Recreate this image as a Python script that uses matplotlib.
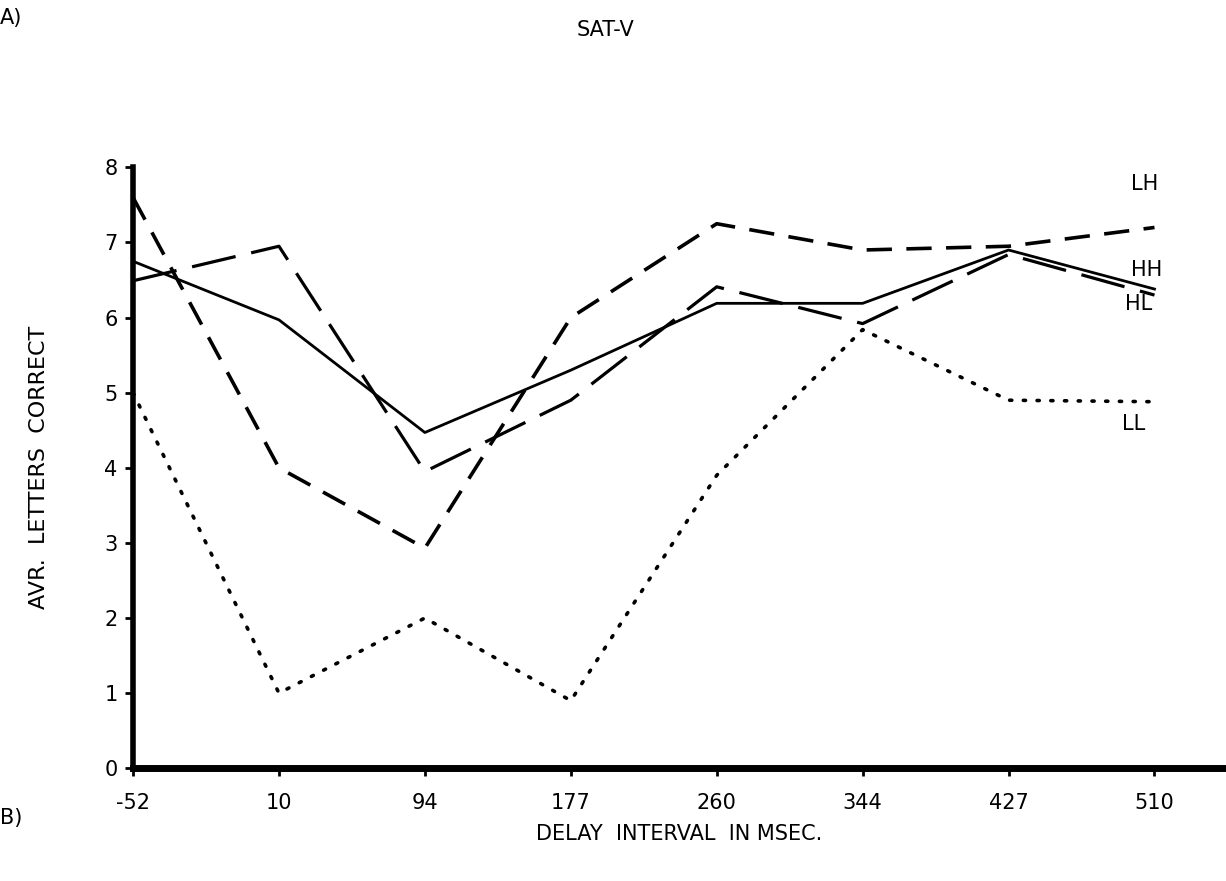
import matplotlib.pyplot as plt

# delay intervals (msec), plotted evenly spaced
delays = ['-52', '10', '94', '177', '260', '344', '427', '510']
LH = [7.6, 4.0, 2.93, 6.0, 7.25, 6.9, 6.95, 7.2]
HH = [6.75, 5.97, 4.47, 5.3, 6.19, 6.19, 6.9, 6.38]
HL = [6.49, 6.95, 3.95, 4.9, 6.41, 5.92, 6.84, 6.3]
LL = [5.0, 1.0, 2.0, 0.9, 3.9, 5.84, 4.9, 4.88]
yticks = [0, 1, 2, 3, 4, 5, 6, 7, 8]

fig = plt.figure(figsize=(12.26, 8.81), dpi=100)
ax = fig.add_axes([0.1085, 0.128, 0.8915, 0.682])
xs = list(range(len(delays)))

ax.plot(xs, LH, color='black', lw=2.6, dashes=(7, 4))
ax.plot(xs, HH, color='black', lw=2.0)
ax.plot(xs, HL, color='black', lw=2.3, dashes=(14, 5))
ax.plot(xs, LL, color='black', lw=2.6, dashes=(0.6, 3.2), dash_capstyle='round')

ax.set_xlim(0, 7.49)
ax.set_ylim(0, 8)
ax.set_xticks(xs)
ax.set_xticklabels(delays)
ax.set_yticks(yticks)
ax.tick_params(labelsize=15, width=2, length=6, direction='out')
ax.tick_params(axis='x', pad=12)
ax.tick_params(axis='y', pad=5)
for s in ['top', 'right']:
    ax.spines[s].set_visible(False)
ax.spines['left'].set_linewidth(4)
ax.spines['bottom'].set_linewidth(5)

ax.set_ylabel('AVR.  LETTERS  CORRECT', fontsize=16, labelpad=40)
ax.set_xlabel('DELAY  INTERVAL  IN MSEC.', fontsize=15, labelpad=8)

# series labels at right end
ax.text(6.84, 7.7, 'LH', fontsize=15)
ax.text(6.84, 6.55, 'HH', fontsize=15)
ax.text(6.8, 6.1, 'HL', fontsize=15)
ax.text(6.78, 4.5, 'LL', fontsize=15)

fig.text(605 / 1226, 1 - 30 / 881, 'SAT-V', fontsize=15, ha='center', va='center')
fig.text(0.0, 1 - 18 / 881, 'A)', fontsize=15, va='center')
fig.text(0.0, 1 - 818 / 881, 'B)', fontsize=15, va='center')

fig.savefig('out.png', dpi=100)
